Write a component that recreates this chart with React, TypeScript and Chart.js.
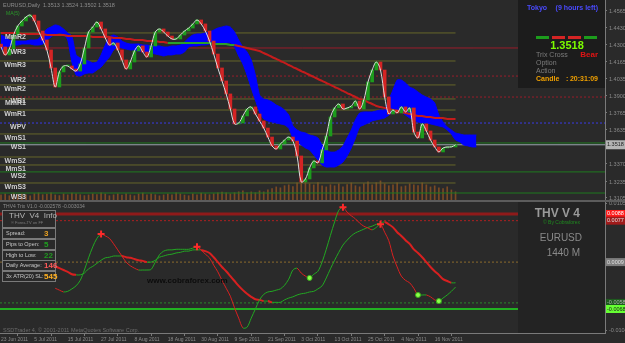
import React, { useEffect, useRef } from 'react';
import { Chart, registerables } from 'chart.js';

Chart.register(...registerables);

const FONT = '"Liberation Sans", Arial, sans-serif';

// ---------------- data ----------------
const dateLabels = ['23 Jun 2011', '5 Jul 2011', '15 Jul 2011', '27 Jul 2011', '8 Aug 2011', '18 Aug 2011', '30 Aug 2011', '9 Sep 2011', '21 Sep 2011', '3 Oct 2011', '13 Oct 2011', '25 Oct 2011', '4 Nov 2011', '16 Nov 2011'];
const dateTickBars = [0, 8, 16, 24, 32, 40, 48, 56, 64, 72, 80, 88, 96, 104];

const firstOpen = 1.4300;
const closes = [
  1.4278, 1.4216, 1.4262, 1.4371, 1.4441, 1.4480, 1.4511, 1.4526, 1.4480, 1.4402,
  1.4332, 1.4255, 1.4115, 1.3967, 1.4084, 1.4130, 1.4130, 1.4107, 1.4091, 1.4146,
  1.4270, 1.4394, 1.4433, 1.4472, 1.4418, 1.4348, 1.4293, 1.4309, 1.4255, 1.4177,
  1.4107, 1.4161, 1.4247, 1.4286, 1.4239, 1.4200, 1.4286, 1.4394, 1.4418, 1.4394,
  1.4363, 1.4340, 1.4340, 1.4371, 1.4402, 1.4425, 1.4457, 1.4488, 1.4457, 1.4402,
  1.4324, 1.4223, 1.4115, 1.4014, 1.3913, 1.3796, 1.3680, 1.3687, 1.3742, 1.3796,
  1.3812, 1.3757, 1.3703, 1.3648, 1.3578, 1.3509, 1.3485, 1.3524, 1.3555, 1.3578,
  1.3547, 1.3431, 1.3229, 1.3252, 1.3338, 1.3392, 1.3377, 1.3478, 1.3586, 1.3734,
  1.3804, 1.3835, 1.3796, 1.3804, 1.3819, 1.3858, 1.3796, 1.3866, 1.4006, 1.4099,
  1.4161, 1.4099, 1.3889, 1.3757, 1.3788, 1.3765, 1.3812, 1.3773, 1.3804, 1.3617,
  1.3571, 1.3680, 1.3625, 1.3555, 1.3501, 1.3462, 1.3493, 1.3501, 1.3501, 1.3518,
];

const maValues = [
  1.4387, 1.4387, 1.4387, 1.4387, 1.4387, 1.4379, 1.4379, 1.4379, 1.4379, 1.4379, 1.4379,
  1.4371, 1.4371, 1.4371, 1.4371, 1.4371, 1.4363, 1.4363, 1.4363, 1.4363, 1.4363,
  1.4363, 1.4356, 1.4356, 1.4356, 1.4356, 1.4356, 1.4348, 1.4348, 1.4348, 1.4340,
  1.4340, 1.4332, 1.4332, 1.4332, 1.4324, 1.4324, 1.4324, 1.4317, 1.4317, 1.4309,
  1.4309, 1.4309, 1.4309, 1.4309, 1.4309, 1.4309, 1.4309, 1.4309, 1.4309, 1.4309,
  1.4301, 1.4301, 1.4301, 1.4301, 1.4293, 1.4293, 1.4286, 1.4278, 1.4270, 1.4262,
  1.4255, 1.4247, 1.4231, 1.4216, 1.4200, 1.4185, 1.4169, 1.4154, 1.4138, 1.4122,
  1.4107, 1.4091, 1.4076, 1.4060, 1.4045, 1.4029, 1.4014, 1.3998, 1.3983, 1.3967,
  1.3952, 1.3936, 1.3920, 1.3905, 1.3889, 1.3874, 1.3866, 1.3850, 1.3835, 1.3819,
  1.3812, 1.3804, 1.3796, 1.3788, 1.3781, 1.3773, 1.3765, 1.3757, 1.3749, 1.3742,
  1.3742, 1.3734, 1.3734, 1.3726, 1.3726, 1.3726, 1.3718, 1.3718, 1.3718,
];
const maUpFrom = 40;
const maUpTo = 56;

const cloudTop = [
  1.4371, 1.4356, 1.4332, 1.4324, 1.4324, 1.4324, 1.4324, 1.4332, 1.4332, 1.4340,
  1.4379, 1.4418, 1.4433, 1.4449, 1.4441, 1.4418, 1.4387, 1.4363, 1.4216, 1.4192,
  1.4177, 1.4169, 1.4154, 1.4161, 1.4216, 1.4293, 1.4356, 1.4371, 1.4356, 1.4324,
  1.4309, 1.4301, 1.4301, 1.4301, 1.4293, 1.4293, 1.4286, 1.4286, 1.4286, 1.4278,
  1.4278, 1.4286, 1.4286, 1.4293, 1.4317, 1.4348, 1.4371, 1.4379, 1.4379, 1.4387,
  1.4394, 1.4410, 1.4425, 1.4433, 1.4441, 1.4433, 1.4394, 1.4332, 1.4278, 1.4239,
  1.4177, 1.4060, 1.3905, 1.3874, 1.3866, 1.3850, 1.3827, 1.3812, 1.3788, 1.3749,
  1.3664, 1.3633, 1.3617, 1.3610, 1.3594, 1.3586, 1.3571, 1.3516, 1.3478, 1.3462,
  1.3462, 1.3478, 1.3509, 1.3571, 1.3633, 1.3711, 1.3765, 1.3773, 1.3773, 1.3773,
  1.3781, 1.3788, 1.3788, 1.3866, 1.3944, 1.4021, 1.4021, 1.3998, 1.3967, 1.3952,
  1.3928, 1.3905, 1.3889, 1.3874, 1.3843, 1.3749, 1.3695, 1.3656, 1.3633, 1.3610,
  1.3602, 1.3594, 1.3594, 1.3594, 1.3594,
];
const cloudBottom = [
  1.4255, 1.4270, 1.4286, 1.4293, 1.4293, 1.4301, 1.4301, 1.4301, 1.4293, 1.4293,
  1.4301, 1.4332, 1.4356, 1.4379, 1.4387, 1.4379, 1.4332, 1.4161, 1.4060, 1.4052,
  1.4068, 1.4076, 1.4076, 1.4099, 1.4122, 1.4161, 1.4200, 1.4255, 1.4278, 1.4270,
  1.4262, 1.4255, 1.4255, 1.4247, 1.4239, 1.4239, 1.4231, 1.4223, 1.4216, 1.4208,
  1.4216, 1.4216, 1.4223, 1.4223, 1.4239, 1.4278, 1.4286, 1.4286, 1.4293, 1.4293,
  1.4301, 1.4301, 1.4309, 1.4309, 1.4309, 1.4309, 1.4278, 1.4208, 1.4146, 1.4060,
  1.3959, 1.3866, 1.3773, 1.3718, 1.3703, 1.3695, 1.3687, 1.3680, 1.3672, 1.3648,
  1.3571, 1.3540, 1.3516, 1.3493, 1.3478, 1.3439, 1.3400, 1.3361, 1.3345, 1.3345,
  1.3345, 1.3361, 1.3384, 1.3431, 1.3493, 1.3571, 1.3656, 1.3672, 1.3687, 1.3703,
  1.3711, 1.3718, 1.3726, 1.3749, 1.3773, 1.3788, 1.3773, 1.3749, 1.3726, 1.3711,
  1.3695, 1.3687, 1.3687, 1.3680, 1.3672, 1.3664, 1.3656, 1.3633, 1.3602, 1.3555,
  1.3540, 1.3516, 1.3509, 1.3501, 1.3501,
];

const volumes = [
  6200, 7100, 5300, 8000, 6400, 7200, 6100, 5200, 7300, 8100,
  6300, 7000, 8200, 6100, 5400, 7100, 6200, 8000, 7200, 6300,
  5400, 6100, 7200, 6300, 8100, 7000, 5300, 6200, 7100, 6000,
  7200, 6100, 5300, 7000, 8000, 6200, 7100, 6300, 5200, 6100,
  7000, 6200, 8100, 7100, 6000, 5300, 7200, 6100, 8000, 7100,
  6300, 7200, 8100, 9000, 8200, 7100, 8300, 9200, 10100, 8200,
  9100, 8300, 10200, 9100, 11200, 12300, 14100, 13200, 15300, 16200,
  14300, 18200, 22100, 20300, 17200, 16100, 18300, 15200, 14100, 16300,
  15200, 17100, 14200, 16300, 18100, 15300, 14200, 17300, 19100, 16200,
  18300, 20100, 17200, 15300, 16100, 18200, 14300, 15100, 17200, 16100,
  15300, 18100, 16200, 14100, 15200, 13100, 12300, 14200, 11100, 9200,
];

const thvStartBar = 13;
const thvFast = [
  -0.0034, -0.0037, -0.0040, -0.0039, -0.0035, -0.0030, -0.0021, -0.0004, 0.0016, 0.0034,
  0.0048, 0.0055, 0.0052, 0.0048, 0.0039, 0.0029, 0.0019, 0.0009, 0.0003, -0.0001,
  -0.0004, -0.0004, -0.0004, -0.0003, 0.0009, 0.0021, 0.0027, 0.0029, 0.0029, 0.0030,
  0.0030, 0.0030, 0.0030, 0.0032, 0.0034, 0.0029, 0.0022, 0.0016, 0.0004, -0.0007,
  -0.0021, -0.0034, -0.0047, -0.0066, -0.0083, -0.0099, -0.0098, -0.0083, -0.0068, -0.0053,
  -0.0044, -0.0040, -0.0039, -0.0037, -0.0035, -0.0029, -0.0019, -0.0004, -0.0001, -0.0009,
  -0.0014, -0.0017, -0.0011, -0.0006, 0.0009, 0.0030, 0.0053, 0.0075, 0.0094, 0.0099,
  0.0091, 0.0085, 0.0080, 0.0073, 0.0068, 0.0065, 0.0062, 0.0066, 0.0071, 0.0058,
  0.0044, 0.0019, 0.0001, -0.0014, -0.0021, -0.0025, -0.0034, -0.0045, -0.0045, -0.0045,
  -0.0048, -0.0053, -0.0055, -0.0050, -0.0045, -0.0039, -0.0032,
];
const thvSlow = [
  0.0002, -0.0001, -0.0004, -0.0007, -0.0011, -0.0012, -0.0012, -0.0009, -0.0002, 0.0002,
  0.0007, 0.0012, 0.0016, 0.0017, 0.0019, 0.0019, 0.0019, 0.0017, 0.0016, 0.0014,
  0.0012, 0.0011, 0.0009, 0.0009, 0.0012, 0.0017, 0.0019, 0.0021, 0.0022, 0.0024,
  0.0025, 0.0027, 0.0027, 0.0029, 0.0029, 0.0029, 0.0027, 0.0024, 0.0017, 0.0009,
  0.0001, -0.0006, -0.0014, -0.0022, -0.0030, -0.0037, -0.0043, -0.0048, -0.0052, -0.0053,
  -0.0055, -0.0055, -0.0057, -0.0057, -0.0057, -0.0053, -0.0050, -0.0048, -0.0045, -0.0043,
  -0.0042, -0.0040, -0.0039, -0.0035, -0.0030, -0.0017, -0.0002, 0.0012, 0.0025, 0.0037,
  0.0045, 0.0052, 0.0057, 0.0060, 0.0063, 0.0066, 0.0068, 0.0071, 0.0073, 0.0075,
  0.0071, 0.0066, 0.0058, 0.0052, 0.0045, 0.0039, 0.0030, 0.0024, 0.0017, 0.0009,
  0.0001, -0.0006, -0.0012, -0.0019, -0.0022, -0.0025, -0.0025,
];
const sellBars = [24, 47, 82, 91];
const buyBars = [74, 100, 105];

const pivotNames = ['MmR2', 'WR3', 'WmR3', 'WR2', 'WmR2', 'WR1', 'MmR1', 'WmR1', 'WPV', 'WmS1', 'WS1', 'WmS2', 'MmS1', 'WS2', 'WmS3', 'WS3'];
const pivotValues = [1.4387, 1.4270, 1.4169, 1.4052, 1.3983, 1.3889, 1.3874, 1.3788, 1.3687, 1.3602, 1.3532, 1.3423, 1.3361, 1.3307, 1.3221, 1.3143];

const bidPrice = 1.3518;
const priceTicks = [1.4565, 1.4430, 1.4300, 1.4165, 1.4035, 1.3900, 1.3765, 1.3635, 1.3370, 1.3235, 1.3105];

const thvLevels = [0.0088, 0.0077, 0.0009, -0.0058, -0.0068];
const thvLevelLabels = ['0.0088', '0.0077', '0.0009', '-0.0058', '-0.0068'];
const thvAxisTicks = [0.0105, -0.0104];

const infoLabels = ['Spread:', 'Pips to Open:', 'High to Low:', 'Daily Average:', '3x ATR(20) SL:'];
const infoValues = ['3', '5', '22', '146', '545'];

// ---------------- layout / style ----------------
const X_MIN = -0.24;
const X_MAX = 144.84;
const P_MIN = 1.3081;
const P_MAX = 1.4643;
const T_MIN = -0.01074;
const T_MAX = 0.01093;
const V_MIN = -132000;
const V_MAX = 201000;

const GREEN = '#1c9c1c';
const RED = '#d42424';

const levelStyles = [
  { color: '#8e1a1a', width: 3, dash: [] },
  { color: '#b02020', width: 1, dash: [2, 2] },
  { color: '#8c6a2c', width: 1, dash: [2, 2] },
  { color: '#2a8a2a', width: 1, dash: [2, 2] },
  { color: '#22b022', width: 2, dash: [] },
];
const levelBoxes = [
  { bg: '#ff1a1a', fg: '#ffffff' },
  { bg: '#a01a1a', fg: '#e0e0e0' },
  { bg: '#7e7e7e', fg: '#e0e0e0' },
  { bg: '#1e5a1e', fg: '#b0b0b0' },
  { bg: '#66ff33', fg: '#1a1a1a' },
];
const infoColors = ['#e8a020', '#1fa01f', '#1f9a1f', '#ff5a5a', '#ffb020'];

function pivotStyle(name: string) {
  if (name.startsWith('Wm') || name.startsWith('Mm')) return { color: '#66662a', dash: [], full: false };
  if (name === 'WPV') return { color: '#3a3ae6', dash: [2, 2], full: true };
  if (name.startsWith('WR')) return { color: '#9a1c2a', dash: name === 'WR3' ? [] : [2, 2], full: true };
  return { color: '#1f7a1f', dash: [], full: true };
}

function txt(c: CanvasRenderingContext2D, s: string, x: number, y: number, color: string, font: string, align: CanvasTextAlign = 'left') {
  c.font = font;
  c.fillStyle = color;
  c.textAlign = align;
  c.textBaseline = 'middle';
  c.fillText(s, x, y);
}

const overlayPlugin = {
  id: 'mt4overlay',
  beforeDraw(chart: any) {
    const c = chart.ctx;
    c.save();
    c.fillStyle = '#2a2a2a';
    c.fillRect(0, 0, chart.width, chart.height);
    c.restore();
  },
  afterDraw(chart: any) {
    const c: CanvasRenderingContext2D = chart.ctx;
    const ys = chart.scales.y;
    const y2 = chart.scales.y2;
    const xs = chart.scales.x;
    const right = Math.round(xs.right);
    c.save();

    // pane separator
    c.fillStyle = '#5c5c5c';
    c.fillRect(0, Math.round(ys.bottom) - 1, chart.width, 2);

    // header of main pane
    txt(c, 'EURUSD,Daily  1.3513 1.3524 1.3502 1.3518', 3, 5, '#8c8c8c', `5.5px ${FONT}`);
    txt(c, 'MA(5)', 6, 14, '#2a9a2a', `5px ${FONT}`);

    // pivot labels
    c.font = `bold 7px ${FONT}`;
    c.fillStyle = '#d0d0d0';
    c.textAlign = 'right';
    c.textBaseline = 'top';
    pivotNames.forEach((n, i) => {
      const py = ys.getPixelForValue(pivotValues[i]);
      c.fillText(n, 26, py + 1);
    });

    // top-right info panel
    const px0 = 518;
    c.fillStyle = '#1c1c1c';
    c.fillRect(px0, 0, right - px0, 88);
    txt(c, 'Tokyo', 527, 8, '#4a4aff', `bold 7px ${FONT}`);
    txt(c, '(9 hours left)', 598, 8, '#4a4aff', `bold 7px ${FONT}`, 'right');
    const dashes: [string, number][] = [[GREEN, 536], [RED, 552], [RED, 568], [GREEN, 584]];
    dashes.forEach(([col, x]) => {
      c.fillStyle = col;
      c.fillRect(x, 36, 13, 3);
    });
    txt(c, bidPrice.toFixed(4), 567, 46, '#7cfc00', `bold 11px ${FONT}`, 'center');
    txt(c, 'Trix Cross', 536, 55, '#7c7c7c', `7px ${FONT}`);
    txt(c, 'Bear', 598, 55, '#e01414', `bold 8px ${FONT}`, 'right');
    txt(c, 'Option', 536, 63, '#7c7c7c', `7px ${FONT}`);
    txt(c, 'Action', 536, 71, '#7c7c7c', `7px ${FONT}`);
    txt(c, 'Candle', 536, 79, '#f0a000', `bold 7px ${FONT}`);
    txt(c, ':', 566, 79, '#f0a000', `bold 7px ${FONT}`);
    txt(c, '20:31:09', 598, 79, '#f0a000', `bold 7px ${FONT}`, 'right');

    // lower-right panel
    const lt = Math.round(y2.top) + 1;
    c.fillStyle = '#232323';
    c.fillRect(px0, lt, right - px0, Math.round(y2.bottom) - lt);
    txt(c, 'THV V 4', 580, 214, '#9a9a9a', `bold 12px ${FONT}`, 'right');
    txt(c, '© By Cobraforex', 580, 223, '#1f8a1f', `5px ${FONT}`, 'right');
    txt(c, 'EURUSD', 582, 238, '#8a8a8a', `10px ${FONT}`, 'right');
    txt(c, '1440 M', 580, 253, '#8a8a8a', `10px ${FONT}`, 'right');

    // lower-left info boxes
    txt(c, 'THV4 Trix V1.0 -0.002578 -0.003034', 3, 207, '#8c8c8c', `5px ${FONT}`);
    c.strokeStyle = '#7a7a7a';
    c.lineWidth = 1;
    c.fillStyle = '#2a2a2a';
    c.fillRect(2, 210, 53, 17);
    c.strokeRect(2.5, 210.5, 53, 17);
    txt(c, 'THV  V4  Info', 9, 216, '#b4b4b4', `8px ${FONT}`);
    txt(c, '® Forex-TV on FF', 11, 223, '#7a7a7a', `4px ${FONT}`);
    const rowTops = [228, 239, 250, 260, 271];
    infoLabels.forEach((lab, i) => {
      const t = rowTops[i];
      c.fillStyle = '#2a2a2a';
      c.fillRect(2, t, 53, 10);
      c.strokeStyle = '#7a7a7a';
      c.strokeRect(2.5, t + 0.5, 53, 10);
      txt(c, lab, 6, t + 5.5, '#c8c8c8', `5.5px ${FONT}`);
      txt(c, infoValues[i], 44, t + 5.5, infoColors[i], `bold 8px ${FONT}`);
    });

    // watermark + footer
    txt(c, 'www.cobraforex.com', 147, 281, '#0c0c0c', `bold 8px ${FONT}`);
    txt(c, 'SSDTrader 4, © 2001-2011 MetaQuotes Software Corp.', 3, 330, '#6c6c6c', `5.5px ${FONT}`);

    // bid box on price axis
    const by = ys.getPixelForValue(bidPrice);
    c.fillStyle = '#b4b4b4';
    c.fillRect(right + 1, by - 4.5, chart.width - right - 1, 9);
    txt(c, bidPrice.toFixed(4), right + 2, by, '#1e1e1e', `5.5px ${FONT}`);

    // level boxes on indicator axis
    thvLevels.forEach((v, i) => {
      const ly = y2.getPixelForValue(v);
      c.fillStyle = levelBoxes[i].bg;
      c.fillRect(right + 1, ly - 4, chart.width - right - 1, 8);
      txt(c, thvLevelLabels[i], right + 2, ly, levelBoxes[i].fg, `5.5px ${FONT}`);
    });

    c.restore();
  },
};

function zeroPad(s: any) {
  s.paddingTop = 0;
  s.paddingBottom = 0;
  s.paddingLeft = 0;
  s.paddingRight = 0;
}

function buildConfig() {
  const lastBar = closes.length - 1;
  const opens = closes.map((cl, i) => (i === 0 ? firstOpen : closes[i - 1]));
  const fastPts = thvFast.map((v, i) => ({ x: i + thvStartBar, y: v }));
  const slowPts = thvSlow.map((v, i) => ({ x: i + thvStartBar, y: v }));
  const slopeColor = (ctx: any) => (ctx.p1.parsed.y >= ctx.p0.parsed.y ? '#22a822' : '#d82020');

  const datasets: any[] = [];

  datasets.push({
    type: 'line', yAxisID: 'y2', showLine: false,
    data: sellBars.map((b) => ({ x: b, y: thvFast[b - thvStartBar] })),
    pointStyle: 'cross', pointRadius: 3.5, pointBorderWidth: 2, pointBorderColor: '#ff2a2a',
  });
  datasets.push({
    type: 'line', yAxisID: 'y2', showLine: false,
    data: buyBars.map((b) => ({ x: b, y: thvFast[b - thvStartBar] })),
    pointStyle: 'circle', pointRadius: 2.5, pointBorderWidth: 1, pointBorderColor: '#3ab01a', pointBackgroundColor: '#8cff4a',
  });
  datasets.push({
    type: 'line', yAxisID: 'y2', data: fastPts, pointRadius: 0, borderWidth: 1, tension: 0.3,
    borderColor: '#22a822', segment: { borderColor: slopeColor },
  });
  datasets.push({
    type: 'line', yAxisID: 'y2', data: slowPts, pointRadius: 0, tension: 0.3, borderWidth: 1,
    borderColor: '#22a822',
    segment: {
      borderColor: slopeColor,
      borderWidth: (ctx: any) => (ctx.p1.parsed.y >= ctx.p0.parsed.y ? 1 : 2),
    },
  });
  thvLevels.forEach((v, i) => {
    datasets.push({
      type: 'line', yAxisID: 'y2', data: [{ x: X_MIN, y: v }, { x: X_MAX, y: v }],
      pointRadius: 0, borderColor: levelStyles[i].color, borderWidth: levelStyles[i].width, borderDash: levelStyles[i].dash,
    });
  });

  // main pane
  datasets.push({
    type: 'line', yAxisID: 'y', data: closes.map((v, i) => ({ x: i, y: v })),
    pointRadius: 0, borderColor: '#dcdcdc', borderWidth: 1, tension: 0.35,
  });
  datasets.push({
    type: 'bar', yAxisID: 'y', grouped: false, barThickness: 3, minBarLength: 1,
    data: closes.map((cl, i) => ({ x: i, y: [opens[i], cl] })),
    backgroundColor: closes.map((cl, i) => (cl >= opens[i] ? GREEN : RED)),
    borderWidth: 0,
  });
  datasets.push({
    type: 'line', yAxisID: 'y', data: maValues.map((v, i) => ({ x: i, y: v })),
    pointRadius: 0, borderWidth: 2, tension: 0.3, borderColor: '#c41c1c',
    segment: {
      borderColor: (ctx: any) => (ctx.p0DataIndex >= maUpFrom && ctx.p1DataIndex <= maUpTo ? '#2aa02a' : '#c41c1c'),
    },
  });
  datasets.push({
    type: 'line', yAxisID: 'y', data: cloudBottom.map((v, i) => ({ x: i, y: v })),
    pointRadius: 0, borderWidth: 1, borderColor: '#0000ff', backgroundColor: '#0000ff', fill: '+1', tension: 0.2,
  });
  datasets.push({
    type: 'line', yAxisID: 'y', data: cloudTop.map((v, i) => ({ x: i, y: v })),
    pointRadius: 0, borderWidth: 1, borderColor: '#0000ff', fill: false, tension: 0.2,
  });
  datasets.push({
    type: 'line', yAxisID: 'y', data: [{ x: X_MIN, y: bidPrice }, { x: X_MAX, y: bidPrice }],
    pointRadius: 0, borderWidth: 1, borderColor: '#9aa4ae',
  });
  pivotNames.forEach((n, i) => {
    const st = pivotStyle(n);
    datasets.push({
      type: 'line', yAxisID: 'y',
      data: [{ x: X_MIN, y: pivotValues[i] }, { x: st.full ? X_MAX : lastBar, y: pivotValues[i] }],
      pointRadius: 0, borderWidth: 1, borderColor: st.color, borderDash: st.dash,
    });
  });
  datasets.push({
    type: 'bar', yAxisID: 'yv', grouped: false, barThickness: 1,
    data: volumes.map((v, i) => ({ x: i, y: v })),
    backgroundColor: '#7a4a24', borderWidth: 0,
  });

  const xFont = { size: 5, family: FONT };
  const yFont = { size: 5.5, family: FONT };

  return {
    type: 'line',
    data: { datasets },
    plugins: [overlayPlugin],
    options: {
      responsive: false,
      animation: false,
      devicePixelRatio: 1,
      events: [],
      layout: { padding: 0, autoPadding: false },
      plugins: { legend: { display: false }, tooltip: { enabled: false } },
      scales: {
        x: {
          type: 'linear', position: 'bottom', min: X_MIN, max: X_MAX, offset: false,
          afterFit: (s: any) => { s.height = 10; zeroPad(s); },
          afterBuildTicks: (s: any) => { s.ticks = dateTickBars.map((v) => ({ value: v })); },
          ticks: {
            autoSkip: false, maxRotation: 0, minRotation: 0, align: 'start', padding: 1,
            font: xFont, color: '#8a8a8a',
            callback: (v: any) => { const k = dateTickBars.indexOf(Number(v)); return k >= 0 ? dateLabels[k] : ''; },
          },
          grid: { display: true, drawOnChartArea: false, drawTicks: true, tickLength: 3, color: '#7a7a7a' },
          border: { display: true, color: '#7a7a7a' },
        },
        y: {
          type: 'linear', position: 'right', stack: 'panes', stackWeight: 201, min: P_MIN, max: P_MAX,
          afterFit: (s: any) => { s.width = 20; zeroPad(s); },
          afterBuildTicks: (s: any) => { s.ticks = priceTicks.map((v) => ({ value: v })); },
          ticks: { autoSkip: false, font: yFont, color: '#8a8a8a', padding: 2, labelOffset: 1, callback: (v: any) => Number(v).toFixed(4) },
          grid: { display: true, drawOnChartArea: false, tickLength: 2, color: '#7a7a7a' },
          border: { display: true, color: '#7a7a7a' },
        },
        y2: {
          type: 'linear', position: 'right', stack: 'panes', stackWeight: 132, min: T_MIN, max: T_MAX,
          afterFit: (s: any) => { s.width = 20; zeroPad(s); },
          afterBuildTicks: (s: any) => { s.ticks = thvAxisTicks.map((v) => ({ value: v })); },
          ticks: { autoSkip: false, font: yFont, color: '#8a8a8a', padding: 2, callback: (v: any) => Number(v).toFixed(5) },
          grid: { display: true, drawOnChartArea: false, tickLength: 2, color: '#7a7a7a' },
          border: { display: true, color: '#7a7a7a' },
        },
        yv: {
          type: 'linear', position: 'left', display: false, min: V_MIN, max: V_MAX,
          afterFit: (s: any) => { zeroPad(s); },
        },
      },
    },
  };
}

export default function App() {
  const ref = useRef<HTMLCanvasElement>(null);
  useEffect(() => {
    if (!ref.current) return;
    const chart = new Chart(ref.current, buildConfig() as any);
    return () => chart.destroy();
  }, []);
  return (
    <div style={{ position: 'fixed', left: 0, top: 0, width: 625, height: 343, background: '#2a2a2a' }}>
      <canvas ref={ref} width={625} height={343} style={{ display: 'block', width: 625, height: 343 }} />
    </div>
  );
}
